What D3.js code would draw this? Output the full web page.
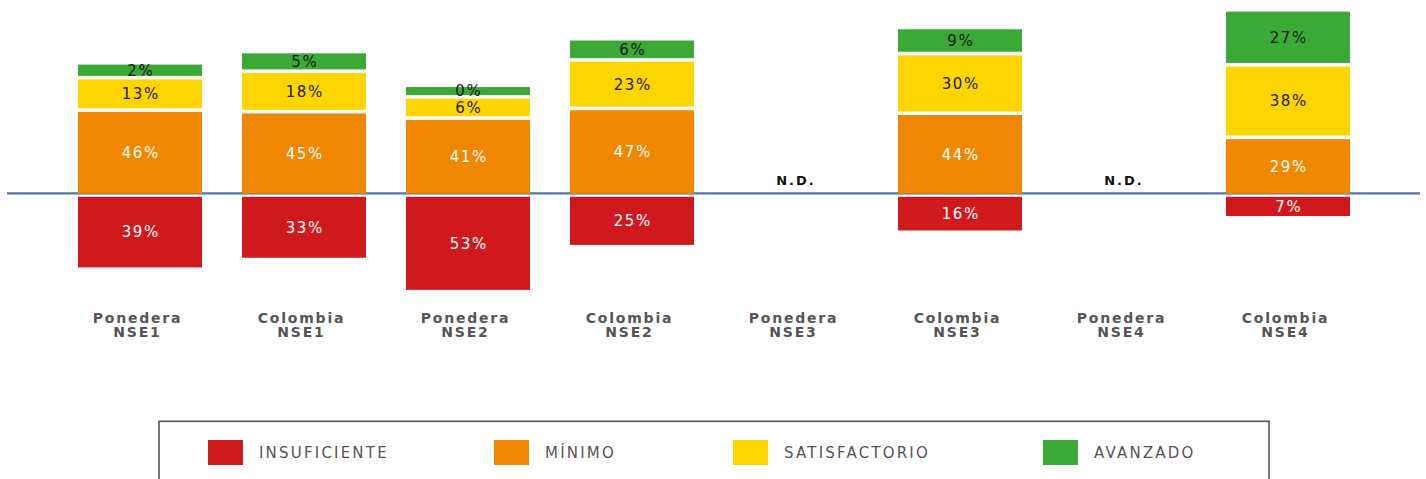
<!DOCTYPE html>
<html>
<head>
<meta charset="utf-8">
<script src="https://cdn.jsdelivr.net/npm/d3@7"></script>
<style>
  body { margin: 0; background: #fff; }
  svg { display: block; font-family: "DejaVu Sans", Verdana, sans-serif; }
</style>
</head>
<body>
<svg id="chart" width="1426" height="479"></svg>
<script>
// categories, two lines each
const categories = ["Ponedera NSE1", "Colombia NSE1", "Ponedera NSE2", "Colombia NSE2",
                    "Ponedera NSE3", "Colombia NSE3", "Ponedera NSE4", "Colombia NSE4"];

// series values (%), null = N.D.
const insuficiente  = [39, 33, 53, 25, null, 16, null, 7];
const minimo        = [46, 45, 41, 47, null, 44, null, 29];
const satisfactorio = [13, 18, 6, 23, null, 30, null, 38];
const avanzado      = [2, 5, 0, 6, null, 9, null, 27];

const seriesNames = ["INSUFICIENTE", "MÍNIMO", "SATISFACTORIO", "AVANZADO"];
const colors = ["#d0191c", "#f08700", "#ffd500", "#3aa935"];
const textColors = ["#ffffff", "#ffffff", "#1a1a1a", "#1a1a1a"];

const svg = d3.select("#chart");

const x = d3.scaleBand()
    .domain(categories)
    .range([58, 1370])
    .paddingInner(0.244)
    .paddingOuter(0.122);

// pixels per percent; each segment also gets a minimum height
const y = d3.scaleLinear().domain([0, 100]).range([0, 160.5]);
const minSeg = 8;
const gap = 3.6;
const upperStart = 193.7;
const lowerStart = 196.8;

// baseline
svg.append("line")
    .attr("x1", 7).attr("x2", 1420)
    .attr("y1", 193.3).attr("y2", 193.3)
    .attr("stroke", "#4f74a8")
    .attr("stroke-width", 2.2);

categories.forEach(function(cat, i) {
    const x0 = x(cat);
    const w = x.bandwidth();
    const cx = x0 + w / 2;
    const g = svg.append("g");

    if (insuficiente[i] == null) {
        g.append("text")
            .attr("x", cx).attr("y", 184.5)
            .attr("text-anchor", "middle")
            .attr("font-size", 13).attr("font-weight", "bold")
            .attr("letter-spacing", 2)
            .attr("fill", "#111")
            .text("N.D.");
    } else {
        // below baseline: insuficiente
        const segs = [];
        const hRed = y(insuficiente[i]) + minSeg;
        segs.push({ s: 0, v: insuficiente[i], top: lowerStart, h: hRed });

        // above baseline: minimo, satisfactorio, avanzado
        let cur = upperStart;
        [minimo[i], satisfactorio[i], avanzado[i]].forEach(function(v, k) {
            const h = y(v) + minSeg;
            segs.push({ s: k + 1, v: v, top: cur - h, h: h });
            cur = cur - h - gap;
        });

        segs.forEach(function(d) {
            g.append("rect")
                .attr("x", x0).attr("y", d.top)
                .attr("width", w).attr("height", d.h)
                .attr("fill", colors[d.s]);
            g.append("text")
                .attr("x", cx + 0.75)
                .attr("y", d.top + d.h / 2 + 5.4)
                .attr("text-anchor", "middle")
                .attr("font-size", 15)
                .attr("letter-spacing", 1.5)
                .attr("fill", textColors[d.s])
                .text(d.v + "%");
        });
    }

    // category label, two lines
    const parts = cat.split(" ");
    parts.forEach(function(p, j) {
        svg.append("text")
            .attr("x", cx - 2.5)
            .attr("y", 323 + j * 13.7)
            .attr("text-anchor", "middle")
            .attr("font-size", 14).attr("font-weight", "bold")
            .attr("letter-spacing", 1.8)
            .attr("fill", "#555")
            .text(p);
    });
});

// legend box
svg.append("rect")
    .attr("x", 159).attr("y", 421.3)
    .attr("width", 1110).attr("height", 80)
    .attr("fill", "none")
    .attr("stroke", "#555")
    .attr("stroke-width", 1.6);

const legendX = [208, 494, 733, 1043];
seriesNames.forEach(function(name, i) {
    svg.append("rect")
        .attr("x", legendX[i]).attr("y", 440)
        .attr("width", 35).attr("height", 25)
        .attr("fill", colors[i]);
    svg.append("text")
        .attr("x", legendX[i] + 51).attr("y", 458)
        .attr("font-size", 15)
        .attr("letter-spacing", 2.2)
        .attr("fill", "#555")
        .text(name);
});
</script>
</body>
</html>
